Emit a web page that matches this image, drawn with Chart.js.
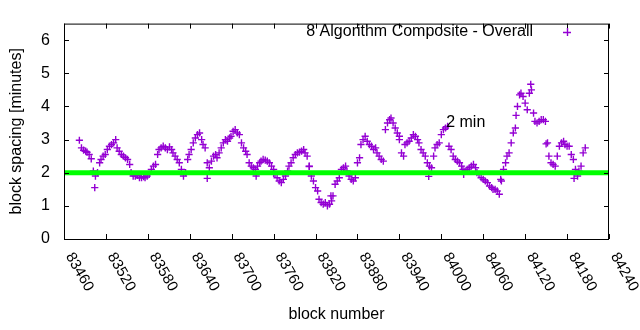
<!DOCTYPE html>
<html>
<head>
<meta charset="utf-8">
<script src="https://cdn.jsdelivr.net/npm/chart.js@4.4.1/dist/chart.umd.min.js"></script>
<style>
  html, body { margin: 0; padding: 0; background: #fff; }
</style>
</head>
<body>
<canvas id="chart" width="640" height="330"></canvas>
<script>
// block spacing values (minutes), evenly spread over the block range
var firstBlock = 83482;
var lastBlock = 84206;
var spacingValues = [
    2.98, 2.75, 2.68, 2.65, 2.62, 2.55, 2.42, 2.05, 1.9, 2.0,
    2.3, 2.4, 2.5, 2.55, 2.7, 2.8, 2.85, 2.9, 3.0, 2.75,
    2.65, 2.55, 2.5, 2.45, 2.4, 2.25, 2.0, 1.9, 1.9, 1.92,
    1.85, 1.85, 1.88, 1.85, 1.9, 1.95, 2.1, 2.2, 2.25, 2.55,
    2.7, 2.75, 2.8, 2.75, 2.7, 2.78, 2.7, 2.6, 2.5, 2.4,
    2.3, 2.1, 1.9, 2.0, 2.4, 2.55, 2.7, 2.9, 3.05, 3.15,
    3.2, 3.0, 2.85, 2.75, 2.3, 2.15, 2.35, 2.5, 2.55, 2.45,
    2.6, 2.75, 2.9, 3.0, 2.95, 3.05, 3.1, 3.25, 3.3, 3.2,
    3.15, 2.9, 2.75, 2.65, 2.55, 2.3, 2.2, 2.15, 2.1, 2.2,
    2.3, 2.35, 2.4, 2.38, 2.35, 2.3, 2.2, 2.1, 1.95, 1.85,
    1.75, 1.7, 1.8, 1.9, 2.05, 2.2, 2.3, 2.45, 2.55, 2.6,
    2.62, 2.65, 2.7, 2.6, 2.5, 2.2, 1.9, 1.75, 1.55, 1.45,
    1.2, 1.1, 1.05, 1.1, 1.0, 1.05, 1.15, 1.3, 1.65, 1.75,
    1.85, 2.1, 2.15, 2.2, 2.05, 1.9, 1.8, 1.75, 1.85, 2.3,
    2.45, 2.85, 3.0, 3.1, 2.95, 2.85, 2.8, 2.7, 2.75, 2.6,
    2.5, 2.4, 2.35, 3.3, 3.5, 3.6, 3.65, 3.5, 3.35, 3.2,
    3.1, 2.6, 2.5, 2.85, 2.9, 2.95, 3.05, 3.15, 3.1, 3.0,
    2.9, 2.7, 2.6, 2.5, 2.3, 2.2, 2.15, 2.5, 2.75, 2.85,
    2.9, 3.15, 3.3, 3.35, 3.4, 2.8, 2.7, 2.5, 2.4, 2.35,
    2.3, 2.2, 2.1, 2.05, 2.1, 2.15, 2.2, 2.25, 2.15, 2.0,
    1.95, 1.85, 1.8, 1.75, 1.7, 1.6, 1.55, 1.5, 1.5, 1.45,
    1.35, 1.75, 2.1, 2.3, 2.5, 2.6, 2.9, 3.2, 3.35, 4.0,
    4.35, 4.4, 4.3, 4.1, 3.9, 4.4, 4.5, 3.8, 3.55, 3.5,
    3.55, 3.6, 3.6, 3.55, 2.9, 2.5, 2.3, 2.25, 2.2, 2.5,
    2.8, 2.9, 2.95, 2.85, 2.8, 2.8, 2.55, 2.4, 2.1, 1.9,
    2.05, 2.2, 2.6, 2.75
];

// stray points away from the main run
var strayBlocks = [83504, 83665, 83735, 83760, 83811, 83842, 83940, 83982, 84032, 84085, 84107, 84128, 84150, 84190];
var strayValues = [1.55, 1.83, 1.90, 1.98, 2.19, 1.30, 3.00, 1.89, 1.95, 1.80, 3.73, 4.67, 2.87, 1.83];

var targetMinutes = 2;
var xTicks = [83460, 83520, 83580, 83640, 83700, 83760, 83820, 83880, 83940, 84000, 84060, 84120, 84180, 84240];
var yTicks = [0, 1, 2, 3, 4, 5, 6];

var FONT = '"Liberation Sans", Arial, sans-serif';
var PURPLE = '#9400d3';

var points = [];
var step = (lastBlock - firstBlock) / (spacingValues.length - 1);
for (var i = 0; i < spacingValues.length; i++) {
    points.push({ x: Math.round(firstBlock + i * step), y: spacingValues[i] });
}
for (var j = 0; j < strayBlocks.length; j++) {
    points.push({ x: strayBlocks[j], y: strayValues[j] });
}

// frame, inward ticks, rotated x labels, titles, key and the "2 min" note
var gnuplotLook = {
    id: 'gnuplotLook',
    afterDraw: function (chart) {
        var ctx = chart.ctx;
        var a = chart.chartArea;
        var xs = chart.scales.x;
        var ys = chart.scales.y;
        ctx.save();
        ctx.strokeStyle = '#000';
        ctx.lineWidth = 1;
        ctx.strokeRect(a.left + 0.5, a.top + 0.5, a.right - a.left - 1, a.bottom - a.top);

        ctx.beginPath();
        xTicks.forEach(function (t) {
            var px = Math.round(xs.getPixelForValue(t)) + 0.5;
            ctx.moveTo(px, a.bottom); ctx.lineTo(px, a.bottom - 5);
            ctx.moveTo(px, a.top); ctx.lineTo(px, a.top + 5);
        });
        yTicks.forEach(function (t) {
            var py = Math.round(ys.getPixelForValue(t)) + 0.5;
            ctx.moveTo(a.left, py); ctx.lineTo(a.left + 5, py);
            ctx.moveTo(a.right, py); ctx.lineTo(a.right - 5, py);
        });
        ctx.stroke();

        ctx.fillStyle = '#000';
        ctx.font = '15px ' + FONT;
        ctx.textAlign = 'left';
        ctx.textBaseline = 'middle';
        xTicks.forEach(function (t) {
            var px = xs.getPixelForValue(t);
            ctx.save();
            ctx.translate(px + 5, a.bottom + 15);
            ctx.rotate(Math.PI / 3);
            ctx.fillText(String(t), 0, 0);
            ctx.restore();
        });

        ctx.font = '16px ' + FONT;
        ctx.textAlign = 'center';
        ctx.fillText('block number', (a.left + a.right) / 2, 315);
        ctx.save();
        ctx.translate(17, (a.top + a.bottom) / 2);
        ctx.rotate(-Math.PI / 2);
        ctx.fillText('block spacing [minutes]', 0, 0);
        ctx.restore();

        ctx.textAlign = 'right';
        ctx.fillText('8 Algorithm Composite - Overall', 533, 32);
        ctx.strokeStyle = PURPLE;
        ctx.lineWidth = 1.4;
        ctx.beginPath();
        ctx.moveTo(563, 32.5); ctx.lineTo(571, 32.5);
        ctx.moveTo(567.5, 28); ctx.lineTo(567.5, 36);
        ctx.stroke();

        ctx.textAlign = 'left';
        ctx.fillText('2 min', xs.getPixelForValue(84007), ys.getPixelForValue(3.5));
        ctx.restore();
    }
};

new Chart(document.getElementById('chart'), {
    type: 'scatter',
    data: {
        datasets: [{
            label: '2 min',
            type: 'line',
            data: [{ x: xTicks[0], y: targetMinutes }, { x: xTicks[xTicks.length - 1], y: targetMinutes }],
            borderColor: '#00ff00',
            borderWidth: 5,
            pointRadius: 0,
            fill: false,
            order: 0
        }, {
            label: '8 Algorithm Composite - Overall',
            data: points,
            pointStyle: 'cross',
            pointRadius: 3.6,
            pointBorderWidth: 1.4,
            borderColor: PURPLE,
            backgroundColor: PURPLE,
            order: 1
        }]
    },
    options: {
        responsive: false,
        animation: false,
        devicePixelRatio: 1,
        layout: { padding: { left: 0, top: 19, right: 31, bottom: 0 } },
        plugins: {
            legend: { display: false },
            tooltip: { enabled: false }
        },
        scales: {
            x: {
                type: 'linear',
                min: xTicks[0],
                max: xTicks[xTicks.length - 1],
                grid: { display: false, drawTicks: false },
                border: { display: false },
                ticks: { display: false },
                afterBuildTicks: function (s) { s.ticks = xTicks.map(function (v) { return { value: v }; }); },
                afterFit: function (s) { s.height = 91; }
            },
            y: {
                min: 0,
                max: 6.5,
                grid: { display: false, drawTicks: false },
                border: { display: false },
                ticks: {
                    padding: 14,
                    color: '#000',
                    font: { family: FONT, size: 16 }
                },
                afterBuildTicks: function (s) { s.ticks = yTicks.map(function (v) { return { value: v }; }); },
                afterFit: function (s) { s.width = 64; }
            }
        }
    },
    plugins: [gnuplotLook]
});
</script>
</body>
</html>
